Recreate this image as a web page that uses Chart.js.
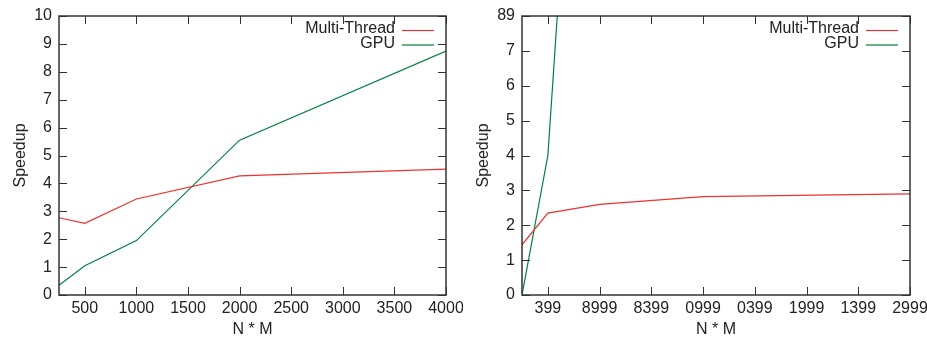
<!DOCTYPE html>
<html lang="en">
<head>
    <meta charset="UTF-8">
    <title>Speedup charts</title>
    <script src="https://cdn.jsdelivr.net/npm/chart.js"></script>
    <style>
        body {
            margin: 0;
            padding: 0;
            background: #fff;
        }

        .row {
            display: flex;
            width: 927px;
            height: 337px;
        }

        .cell {
            position: relative;
            height: 337px;
        }
    </style>
</head>
<body>
    <div class="row">
        <div class="cell" style="width:463px"><canvas id="leftChart"></canvas></div>
        <div class="cell" style="width:464px"><canvas id="rightChart"></canvas></div>
    </div>

    <script>
        // shared x positions (N * M)
        const sizes = [250, 500, 1000, 2000, 4000];
        const xTickValues = [500, 1000, 1500, 2000, 2500, 3000, 3500, 4000];

        // left panel
        const leftMultiThread = [2.77, 2.57, 3.44, 4.27, 4.51];
        const leftGpu = [0.35, 1.05, 1.95, 5.55, 8.74];
        const leftYTicks = [0, 1, 2, 3, 4, 5, 6, 7, 8, 9, 10];
        const leftYLabels = ['0', '1', '2', '3', '4', '5', '6', '7', '8', '9', '10'];
        const leftXLabels = ['500', '1000', '1500', '2000', '2500', '3000', '3500', '4000'];

        // right panel (labels copied as printed)
        const rightMultiThread = [1.44, 2.35, 2.60, 2.82, 2.90];
        const rightGpu = [0, 4.0, 26, 60, 120];
        const rightYTicks = [0, 1, 2, 3, 4, 5, 6, 7, 8];
        const rightYLabels = ['0', '1', '2', '3', '4', '5', '6', '7', '89'];
        const rightXLabels = ['399', '8999', '8399', '0999', '0399', '1999', '1399', '2999'];

        const seriesNames = ['Multi-Thread', 'GPU'];
        const seriesColors = ['rgb(236, 50, 50)', 'rgb(0, 128, 60)'];

        const FONT = 'Liberation Sans, Arial, Helvetica, sans-serif';
        Chart.defaults.font.family = FONT;
        Chart.defaults.font.size = 16;
        Chart.defaults.color = '#222';

        // gnuplot-like frame with inward ticks on all four sides + legend
        const framePlugin = {
            id: 'frame',
            afterDraw(chart) {
                const c = chart.ctx;
                const a = chart.chartArea;
                const xs = chart.scales.x;
                const ys = chart.scales.y;
                const len = 8;
                c.save();
                c.strokeStyle = '#333';
                c.lineWidth = 1;
                c.beginPath();
                xs.ticks.forEach(t => {
                    const px = Math.round(xs.getPixelForValue(t.value)) + 0.5;
                    c.moveTo(px, a.bottom); c.lineTo(px, a.bottom - len);
                    c.moveTo(px, a.top); c.lineTo(px, a.top + len);
                });
                ys.ticks.forEach(t => {
                    const py = Math.round(ys.getPixelForValue(t.value)) + 0.5;
                    c.moveTo(a.left, py); c.lineTo(a.left + len, py);
                    c.moveTo(a.right, py); c.lineTo(a.right - len, py);
                });
                c.stroke();
                c.lineWidth = 1.5;
                c.strokeRect(a.left, a.top, a.right - a.left, a.bottom - a.top);

                // legend: text right aligned, sample line on the right
                c.font = '16px ' + FONT;
                c.textAlign = 'right';
                c.textBaseline = 'middle';
                chart.data.datasets.forEach((ds, i) => {
                    const y = a.top + 13 + i * 14.5;
                    c.fillStyle = '#222';
                    c.fillText(ds.label, a.right - 51, y);
                    c.strokeStyle = ds.borderColor;
                    c.lineWidth = 1.2;
                    c.beginPath();
                    c.moveTo(a.right - 44, y + 1.5);
                    c.lineTo(a.right - 12, y + 1.5);
                    c.stroke();
                });
                c.restore();
            }
        };

        function makeChart(id, mt, gpu, yMax, yTicks, yLabels, xLabels) {
            const ctx = document.getElementById(id).getContext('2d');
            return new Chart(ctx, {
                type: 'line',
                data: {
                    datasets: [mt, gpu].map((vals, i) => ({
                        label: seriesNames[i],
                        data: sizes.map((x, j) => ({ x: x, y: vals[j] })),
                        borderColor: seriesColors[i],
                        borderWidth: 1.2,
                        pointRadius: 0,
                        tension: 0,
                        fill: false
                    }))
                },
                options: {
                    responsive: true,
                    maintainAspectRatio: false,
                    animation: false,
                    layout: { padding: { top: 16, right: 17, left: 0, bottom: 0 } },
                    plugins: {
                        legend: { display: false },
                        tooltip: { enabled: false }
                    },
                    scales: {
                        x: {
                            type: 'linear',
                            min: 250,
                            max: 4000,
                            grid: { display: false, drawTicks: false },
                            border: { display: false },
                            afterBuildTicks: s => { s.ticks = xTickValues.map(v => ({ value: v })); },
                            afterFit: s => { s.height = 42; s.paddingLeft = 0; s.paddingRight = 0; },
                            ticks: {
                                padding: 4,
                                maxRotation: 0,
                                autoSkip: false,
                                callback: (v) => xLabels[xTickValues.indexOf(v)]
                            },
                            title: { display: true, text: 'N * M', padding: { top: 0, bottom: -2 } }
                        },
                        y: {
                            min: 0,
                            max: yMax,
                            grid: { display: false, drawTicks: false },
                            border: { display: false },
                            afterBuildTicks: s => { s.ticks = yTicks.map(v => ({ value: v })); },
                            afterFit: s => { s.width = 59; s.paddingTop = 0; s.paddingBottom = 0; },
                            ticks: {
                                padding: 7,
                                autoSkip: false,
                                callback: (v) => yLabels[yTicks.indexOf(v)]
                            },
                            title: { display: true, text: 'Speedup', padding: { top: 11, bottom: 0 } }
                        }
                    }
                },
                plugins: [framePlugin]
            });
        }

        makeChart('leftChart', leftMultiThread, leftGpu, 10, leftYTicks, leftYLabels, leftXLabels);
        makeChart('rightChart', rightMultiThread, rightGpu, 8, rightYTicks, rightYLabels, rightXLabels);
    </script>
</body>
</html>
